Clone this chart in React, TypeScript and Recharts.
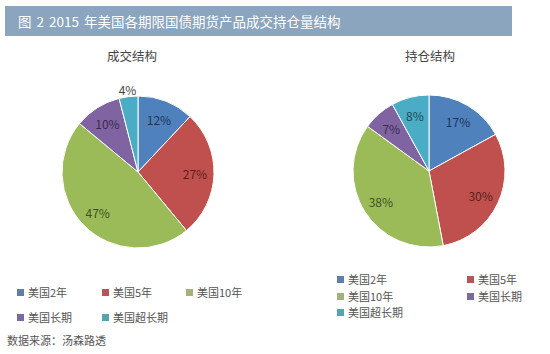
import React from 'react';
import { PieChart, Pie, Cell } from 'recharts';

const categories = ['美国2年', '美国5年', '美国10年', '美国长期', '美国超长期'];
const tradeValues = [12, 27, 47, 10, 4];
const holdValues = [17, 30, 38, 7, 8];
const colors = ['#4F81BD', '#C0504D', '#9BBB59', '#8064A2', '#4BACC6'];
const legendColors = ['#5E7FA6', '#B5545A', '#A3B27C', '#7A6A9E', '#56A4AE'];
const labelColors = ['#1F3559', '#5A1F1D', '#3E5220', '#3A2B52', '#1F4A55'];

const title = '图 2 2015 年美国各期限国债期货产品成交持仓量结构';
const leftTitle = '成交结构';
const rightTitle = '持仓结构';
const source = '数据来源：汤森路透';

const tradeData = categories.map((name, i) => ({ name, value: tradeValues[i] }));
const holdData = categories.map((name, i) => ({ name, value: holdValues[i] }));

const FONT = '"Noto Sans CJK SC", "Noto Sans", sans-serif';
const RAD = Math.PI / 180;

const makeLabel = (data: { value: number }[]) => (props: any) => {
  const { cx, cy, midAngle, outerRadius, index } = props;
  const v = data[index].value;
  const r = v < 5 ? outerRadius * 1.1 : outerRadius * 0.75;
  const x = cx + r * Math.cos(-midAngle * RAD);
  const y = cy + r * Math.sin(-midAngle * RAD);
  const fill = v < 5 ? '#444' : labelColors[index];
  return (
    <text x={x} y={y} fill={fill} fontSize={12} fontFamily={FONT} textAnchor="middle" dominantBaseline="central">
      {v}%
    </text>
  );
};

const Swatch = ({ color }: { color: string }) => (
  <span style={{ display: 'inline-block', width: 7, height: 7, background: color, marginRight: 4, verticalAlign: 'middle' }} />
);

const LegendItem = ({ i, x, y }: { i: number; x: number; y: number }) => (
  <div style={{ position: 'absolute', left: x, top: y, fontSize: 11, color: '#555', fontFamily: FONT, lineHeight: '14px', whiteSpace: 'nowrap' }}>
    <Swatch color={legendColors[i]} />
    <span style={{ verticalAlign: 'middle' }}>{categories[i]}</span>
  </div>
);

export default function App() {
  const leftPos = [
    [17, 283], [102, 283], [186, 283],
    [17, 308], [102, 308],
  ];
  const rightPos = [
    [337, 270], [467, 270],
    [337, 287], [467, 287],
    [337, 303],
  ];
  return (
    <div style={{ position: 'absolute', left: 0, top: 0, width: 550, height: 354, background: '#fff', overflow: 'hidden', fontFamily: FONT }}>
      <div style={{ position: 'absolute', left: 5, top: 6, width: 507, height: 30, background: '#8AA5BD' }} />
      <div style={{ position: 'absolute', left: 18, top: 6, height: 30, lineHeight: '30px', color: '#fff', fontSize: 13.5, whiteSpace: 'pre', wordSpacing: 2 }}>
        {title}
      </div>
      <div style={{ position: 'absolute', left: 82, width: 100, top: 46, textAlign: 'center', fontSize: 12.5, color: '#444' }}>{leftTitle}</div>
      <div style={{ position: 'absolute', left: 380, width: 100, top: 46, textAlign: 'center', fontSize: 12.5, color: '#444' }}>{rightTitle}</div>
      <div style={{ position: 'absolute', left: 0, top: 0 }}>
        <PieChart width={550} height={354} margin={{ top: 0, right: 0, bottom: 0, left: 0 }}>
          <Pie
            data={tradeData}
            dataKey="value"
            nameKey="name"
            cx={138}
            cy={172}
            outerRadius={76}
            startAngle={90}
            endAngle={-270}
            stroke="#fff"
            strokeWidth={1}
            label={makeLabel(tradeData)}
            labelLine={false}
            isAnimationActive={false}
          >
            {tradeData.map((d, i) => (
              <Cell key={d.name} fill={colors[i]} />
            ))}
          </Pie>
          <Pie
            data={holdData}
            dataKey="value"
            nameKey="name"
            cx={429}
            cy={171}
            outerRadius={76}
            startAngle={90}
            endAngle={-270}
            stroke="#fff"
            strokeWidth={1}
            label={makeLabel(holdData)}
            labelLine={false}
            isAnimationActive={false}
          >
            {holdData.map((d, i) => (
              <Cell key={d.name} fill={colors[i]} />
            ))}
          </Pie>
        </PieChart>
      </div>
      {leftPos.map(([x, y], i) => (
        <LegendItem key={'l' + i} i={i} x={x} y={y} />
      ))}
      {rightPos.map(([x, y], i) => (
        <LegendItem key={'r' + i} i={i} x={x} y={y} />
      ))}
      <div style={{ position: 'absolute', left: 7, top: 332, fontSize: 11, color: '#555', whiteSpace: 'nowrap' }}>{source}</div>
    </div>
  );
}
